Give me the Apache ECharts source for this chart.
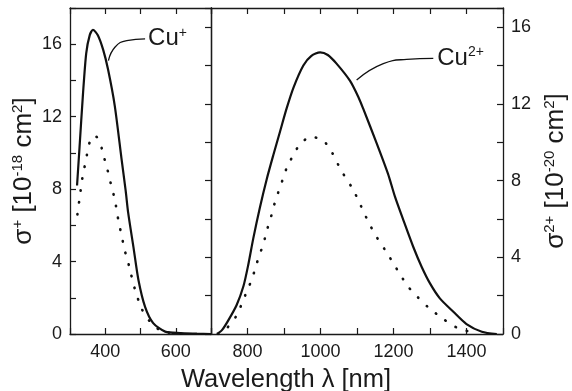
<!DOCTYPE html>
<html>
<head>
<meta charset="utf-8">
<script src="https://cdn.jsdelivr.net/npm/echarts@6/dist/echarts.min.js"></script>
<style>
html,body{margin:0;padding:0;background:#fff;}
#c{width:572px;height:391px;}
</style>
</head>
<body>
<div id="c"></div>
<script>
// ---- data (wavelength in nm, cross sections) ----
const cu1SolidWl = [320,327,337,346,356,365,379,394,408,427,446,458,465,480,494,513,536,570,612,660,700];
const cu1SolidVal = [8.2,10.3,13.3,15.5,16.5,16.8,16.5,15.7,14.6,12.6,9.7,7.9,6.7,4.8,3.0,1.5,0.6,0.13,0.05,0.02,0.0];
const cu1DotWl = [321,330,335,342,348,356,368,377,391,400,410,418,427,433,439,447,454,463,472,480,491,503,525,558,600,630];
const cu1DotVal = [6.6,7.9,8.6,9.3,9.9,10.6,10.95,10.85,10.2,9.5,8.8,8.1,7.45,6.75,6.1,5.4,4.7,4.1,3.4,2.75,2.05,1.4,0.73,0.18,0.03,0];
const cu2SolidWl = [716,730,747,770,789,802,816,834,853,871,889,907,926,953,975,999,1020,1044,1081,1104,1117,1154,1185,1204,1227,1254,1277,1300,1327,1364,1400,1442,1483];
const cu2SolidVal = [0,0.2,0.7,1.5,2.5,3.6,5.0,6.6,8.1,9.35,10.55,11.75,12.85,14.0,14.5,14.69,14.55,14.1,13.2,12.35,11.75,9.94,8.35,7.16,5.94,4.55,3.51,2.64,1.86,1.16,0.52,0.12,0];
const cu2DotWl = [720,743,768,784,799,813,823,834,845,854,864,873,884,896,907,924,944,974,1008,1032,1049,1067,1088,1105,1120,1137,1156,1177,1198,1218,1240,1268,1298,1332,1364,1399,1430];
const cu2DotVal = [0,0.3,0.9,1.56,2.26,2.9,3.55,4.17,4.81,5.46,6.08,6.73,7.37,8.03,8.64,9.28,9.9,10.29,10.08,9.45,8.81,8.2,7.58,6.92,6.29,5.63,4.99,4.38,3.74,3.11,2.47,1.89,1.34,0.85,0.42,0.17,0.03];
// leader lines for the labels
const cu1LeaderWl = [409,428,461,513];
const cu1LeaderVal = [15.1,15.85,16.2,16.3];
const cu2LeaderWl = [1099,1172,1236,1309];
const cu2LeaderVal = [13.25,14.1,14.32,14.37];
// axes
const leftXRange = [300, 700];
const rightXRange = [700, 1500];
const leftYMax = 18;
const rightYMax = 17;

const pairs = (xs, ys) => xs.map((x, i) => [x, ys[i]]);

const FONT = 'Liberation Sans, Arial, sans-serif';
const INK = '#1a1a1a';
const axisLine = {show: true, onZero: false, lineStyle: {color: INK, width: 1.3}};
const tick = (inside) => ({show: true, inside: inside, length: 6, lineStyle: {color: INK, width: 1.2}});
const tickLabel = {color: INK, fontSize: 18, fontFamily: FONT};
const supRich = {
  a: {fontSize: 26, fontFamily: FONT, color: INK, lineHeight: 28},
  s: {fontSize: 15, fontFamily: FONT, color: INK, lineHeight: 15, verticalAlign: 'top'}
};
const labRich = {
  a: {fontSize: 24, fontFamily: FONT, color: INK, lineHeight: 26},
  s: {fontSize: 14, fontFamily: FONT, color: INK, lineHeight: 14, verticalAlign: 'top'}
};

function xAx(grid, range, pos, labels) {
  return {
    type: 'value', gridIndex: grid, position: pos, min: range[0], max: range[1], interval: 100,
    axisLine: axisLine, axisTick: tick(true), splitLine: {show: false},
    axisLabel: labels ? Object.assign({}, tickLabel, {margin: 9, formatter: v => (v % 200 === 0 ? String(v) : '')}) : {show: false}
  };
}
function yAx(grid, max, pos, labels, inside, name) {
  const o = {
    type: 'value', gridIndex: grid, position: pos, min: 0, max: max, interval: 2,
    axisLine: axisLine, axisTick: tick(inside), splitLine: {show: false},
    axisLabel: labels ? Object.assign({}, tickLabel, {margin: 8, formatter: v => (v % 4 === 0 ? String(v) : '')}) : {show: false}
  };
  if (name) {
    o.name = name.text;
    o.nameLocation = 'middle';
    o.nameRotate = 90;
    o.nameGap = name.gap;
    o.nameTextStyle = {rich: supRich};
  }
  return o;
}

const chart = echarts.init(document.getElementById('c'), null, {renderer: 'canvas'});
const solid = {color: '#111', width: 2.2};
const dotted = {color: '#111', width: 2.6, type: [0.5, 11.5], cap: 'round'};
const lineSeries = (xi, yi, data, style) => ({
  type: 'line', xAxisIndex: xi, yAxisIndex: yi, data: data, smooth: 0.25,
  showSymbol: false, symbol: 'none', lineStyle: style, silent: true, animation: false, z: 3
});
const leader = (xi, yi, data, text, dist) => ({
  type: 'line', xAxisIndex: xi, yAxisIndex: yi, data: data, smooth: 0.5,
  showSymbol: false, symbol: 'none', lineStyle: {color: '#111', width: 1.3}, animation: false, silent: true,
  endLabel: {show: true, distance: dist, formatter: text, rich: labRich}
});

chart.setOption({
  animation: false,
  backgroundColor: '#fff',
  title: {
    text: 'Wavelength λ [nm]', left: 'center', top: 362,
    textStyle: {fontSize: 25.5, fontWeight: 'normal', fontFamily: FONT, color: INK}
  },
  grid: [
    {left: 70, top: 8, width: 141, height: 326, outerBoundsMode: 'none', containLabel: false},
    {left: 211, top: 8, width: 292, height: 326, outerBoundsMode: 'none', containLabel: false}
  ],
  xAxis: [
    xAx(0, leftXRange, 'bottom', true),
    xAx(0, leftXRange, 'top', false),
    xAx(1, rightXRange, 'bottom', true),
    xAx(1, rightXRange, 'top', false)
  ],
  yAxis: [
    yAx(0, leftYMax, 'left', true, true, {text: '{a|σ}{s|+}{a| [10}{s|-18}{a| cm}{s|2}{a|]}', gap: 32}),
    Object.assign(yAx(0, leftYMax, 'right', false, true), {axisTick: {show: false}}),
    yAx(1, rightYMax, 'left', false, false),
    yAx(1, rightYMax, 'right', true, true, {text: '{a|σ}{s|2+}{a| [10}{s|-20}{a| cm}{s|2}{a|]}', gap: 36})
  ],
  series: [
    lineSeries(0, 0, pairs(cu1SolidWl, cu1SolidVal), solid),
    lineSeries(0, 0, pairs(cu1DotWl, cu1DotVal), dotted),
    lineSeries(2, 3, pairs(cu2SolidWl, cu2SolidVal), solid),
    lineSeries(2, 3, pairs(cu2DotWl, cu2DotVal), dotted),
    leader(0, 0, pairs(cu1LeaderWl, cu1LeaderVal), '{a|Cu}{s|+}', 3),
    leader(2, 3, pairs(cu2LeaderWl, cu2LeaderVal), '{a|Cu}{s|2+}', 4)
  ]
});
</script>
</body>
</html>
